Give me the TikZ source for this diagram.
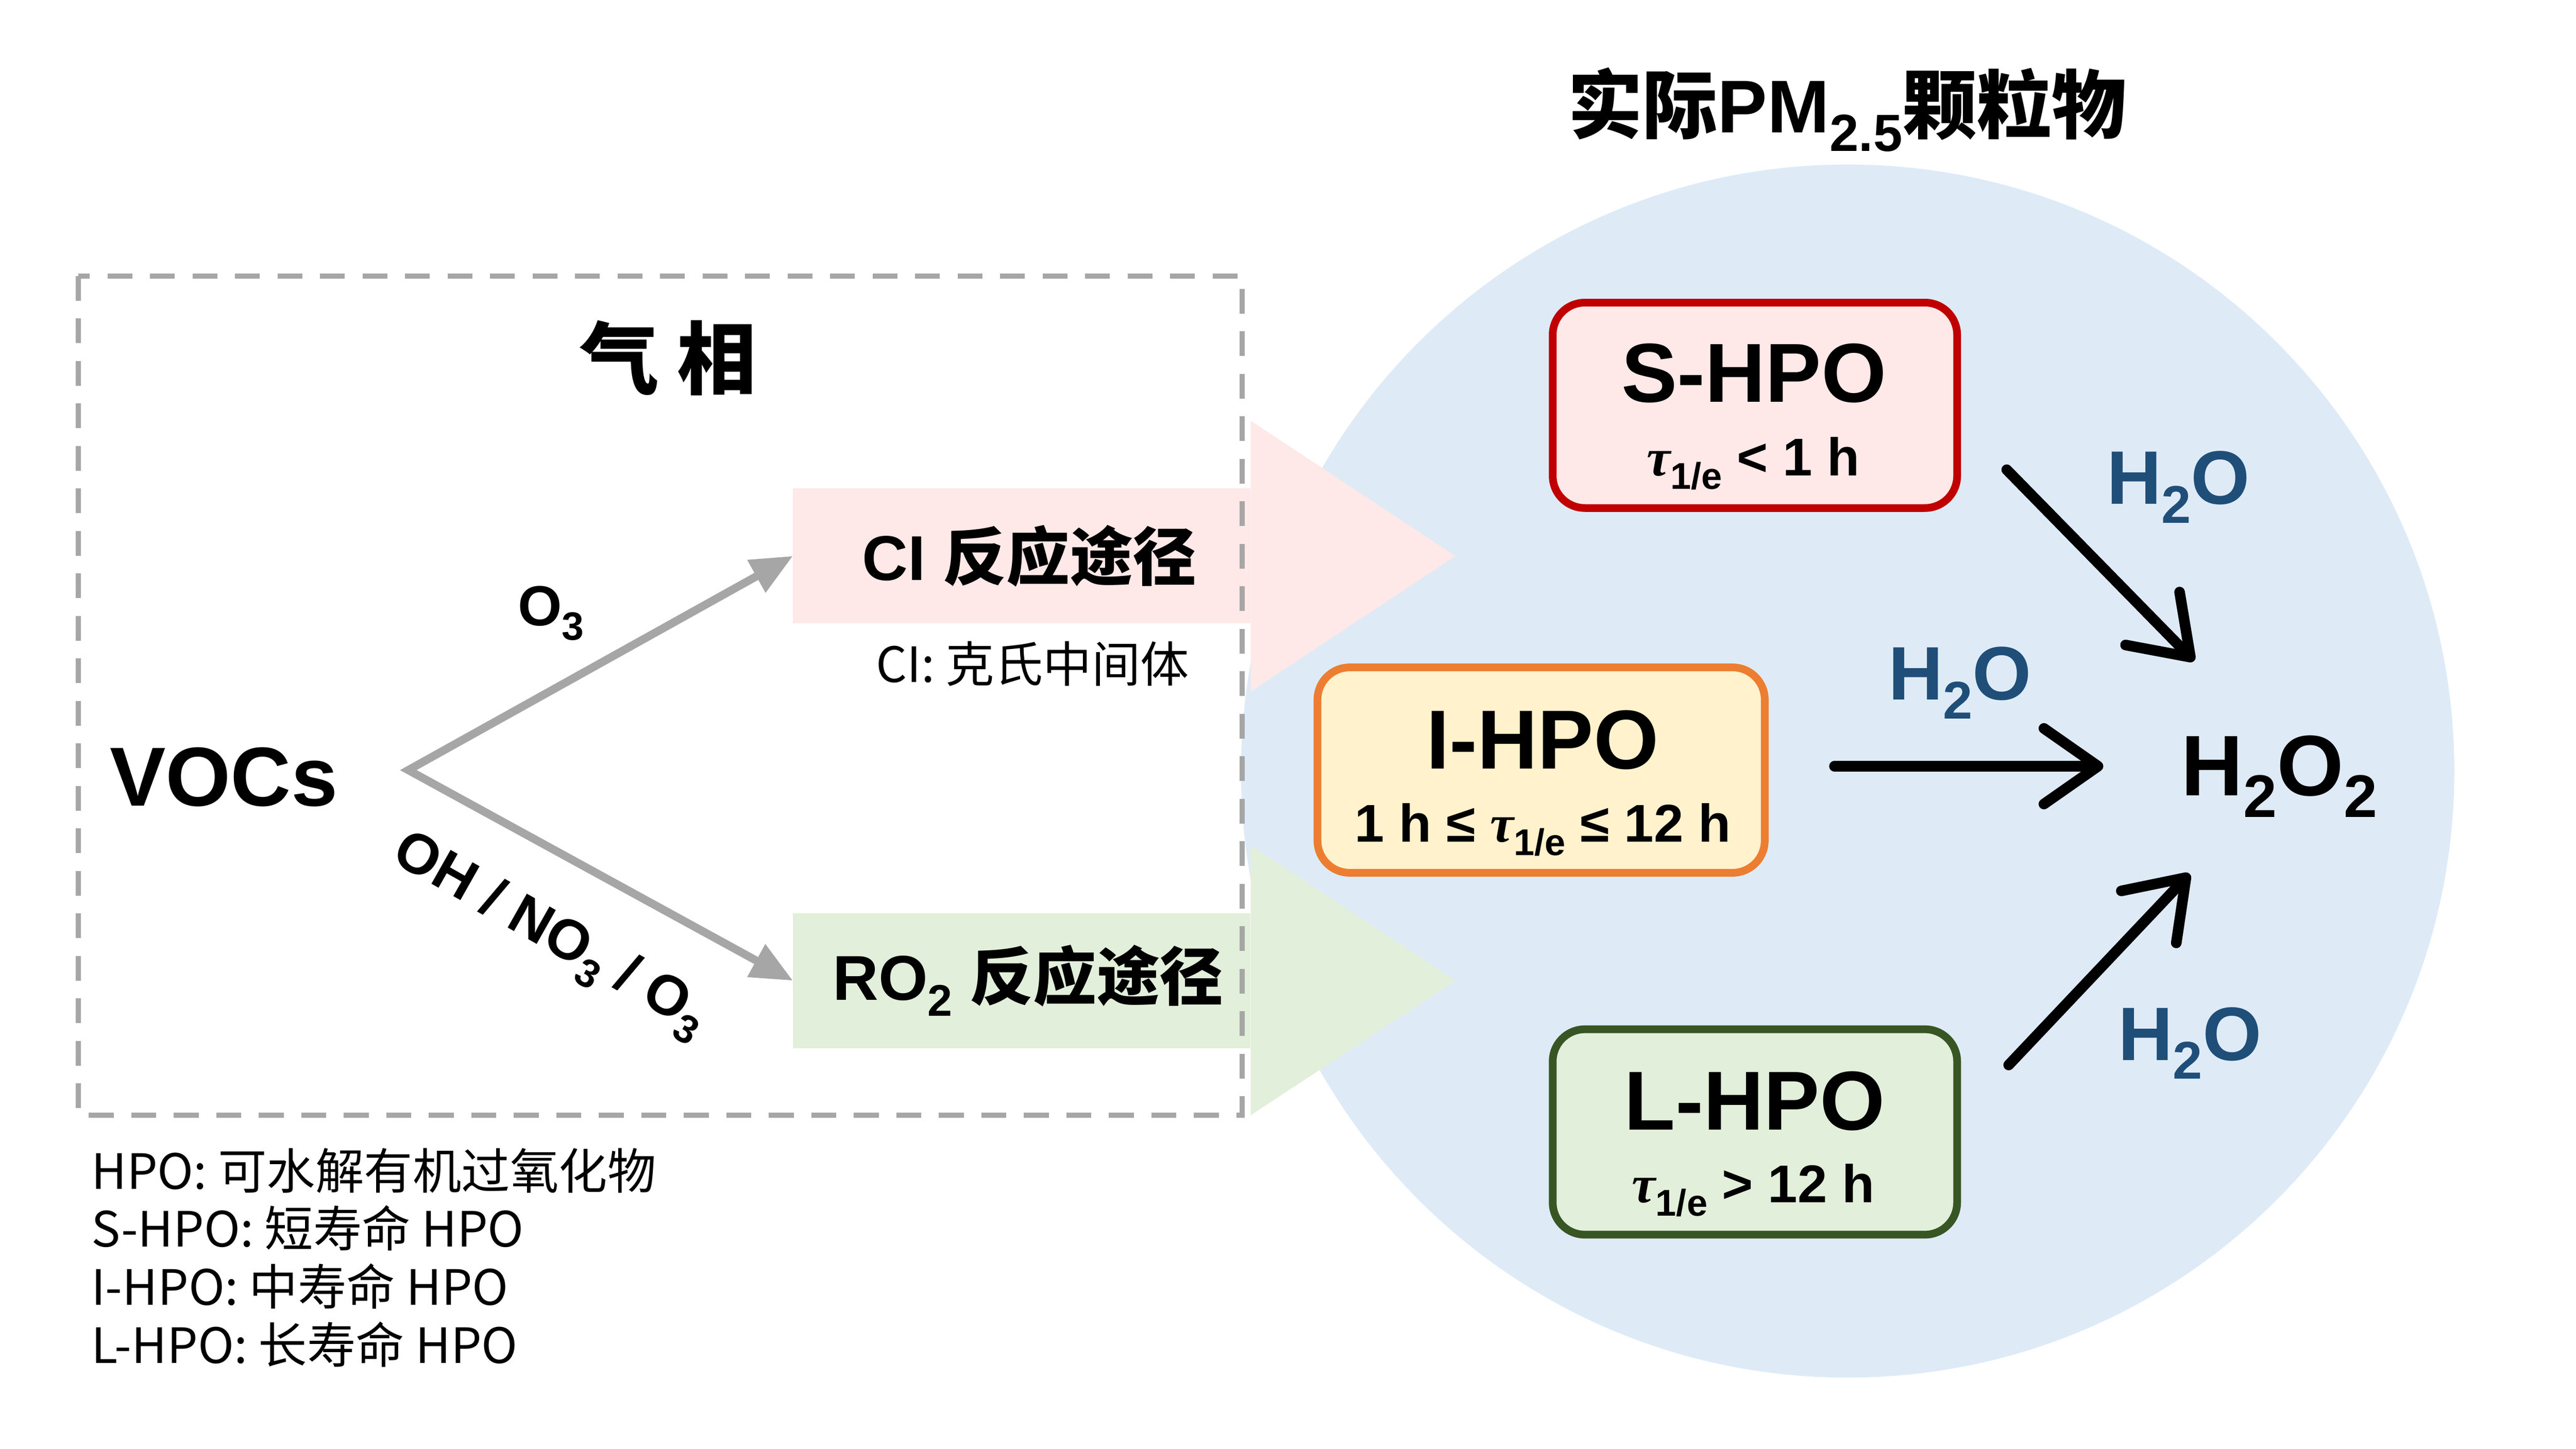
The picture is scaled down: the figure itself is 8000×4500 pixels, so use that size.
\documentclass[tikz,border=0pt]{standalone}
\usepackage{fontspec}
\setmainfont{Liberation Sans}
\newfontfamily\cjk{Noto Sans CJK SC}
\newfontfamily\grk{Liberation Serif}
\usepackage{xcolor}
\usepackage{tikz}
\usetikzlibrary{arrows.meta,calc}
\definecolor{dashgray}{HTML}{A6A6A6}
\definecolor{pmblue}{HTML}{DEEBF7}
\definecolor{cipink}{HTML}{FFE8E8}
\definecolor{rogreen}{HTML}{E2EFDA}
\definecolor{iyellow}{HTML}{FFF2CC}
\definecolor{sred}{HTML}{C00000}
\definecolor{iorange}{HTML}{ED7D31}
\definecolor{lgreen}{HTML}{375623}
\definecolor{waterblue}{HTML}{1F4E79}
\newcommand{\fsz}[1]{\fontsize{#1pt}{#1pt}\selectfont}
\newcommand{\lowidx}[1]{\raisebox{-0.25em}{\scalebox{0.7}{#1}}}
\newcommand{\tauidx}{{\grk\itshape τ}\lowidx{1/e}}

\begin{document}
\begin{tikzpicture}[x=0.1mm,y=-0.1mm,
    hpobox/.style={rounded corners=10mm,line width=2.4mm,minimum width=125.6mm,minimum height=63.8mm,inner sep=0pt},
    pathbox/.style={minimum width=142.1mm,minimum height=41.9mm,inner sep=0pt,outer sep=0pt,font=\bfseries\fsz{56}},
    hponame/.style={font=\bfseries\fsz{74},inner sep=0pt},
    hpotau/.style={font=\bfseries\fsz{47},inner sep=0pt},
    water/.style={font=\bfseries\fsz{67},text=waterblue,inner sep=0pt},
    legend/.style={font=\cjk\fsz{43},anchor=base west,inner sep=0pt},
    grayarrow/.style={dashgray,line width=2.5mm,arrows={Triangle[length=13mm,width=11mm]-Triangle[length=13mm,width=11mm]}},
    blackarrow/.style={line width=3.3mm,line cap=round,-{Straight Barb[length=16.8mm,width=23.5mm,round]}}]
    \useasboundingbox (0,0) rectangle (8000,4500);

    % particle phase
    \fill[pmblue] (5738,2395) circle[radius=188.4mm];
    \fill[cipink] (3884,1307) -- (4520,1727) -- (3884,2148) -- cycle;
    \fill[rogreen] (3884,2626) -- (4520,3046) -- (3884,3464) -- cycle;

    % gas phase
    \node[pathbox,fill=cipink] (ci) at (3173,1727) {\hspace*{4.8mm}CI {\cjk 反应途径}};
    \node[pathbox,fill=rogreen] (ro) at (3173,3046) {\hspace*{4mm}RO\lowidx{2} {\cjk 反应途径}};
    \draw[dashgray,line width=1.6mm,dash pattern=on 7.7mm off 5.5mm] (243,857) rectangle (3858,3464);
    \node[font=\cjk\bfseries\fsz{70}] (gas) at (2075,1112) {气 相};
    \node[font=\bfseries\fsz{74}] (vocs) at (695,2414) {VOCs};
    \coordinate (fork) at (1268,2392);
    \draw[grayarrow] (ci.west) -- (fork) -- (ro.west);
    \node[font=\bfseries\fsz{50}] (othree) at (1711,1905) {O\lowidx{3}};
    \node[font=\bfseries\fsz{50},rotate=-29.5] (oxid) at (1707,2907) {OH / NO\lowidx{3} / O\lowidx{3}};
    \node[font=\cjk\fsz{43}] (cinote) at (3207,2062) {CI: 克氏中间体};

    \node[font=\bfseries\fsz{66}] (pm) at (5737,341) {{\cjk 实际}PM\lowidx{2.5}{\cjk 颗粒物}};

    % HPO boxes
    \node[hpobox,draw=sred,fill=cipink] (shpo) at (5450,1259) {};
    \node[hpobox,draw=iorange,fill=iyellow,minimum width=138.9mm] (ihpo) at (4786,2392) {};
    \node[hpobox,draw=lgreen,fill=rogreen] (lhpo) at (5450,3516) {};
    \node[hponame] (sname) at (5447,1160) {S-HPO};
    \node[hpotau] (stau) at (5445,1440) {\tauidx{} < 1 h};
    \node[hponame] (iname) at (4790,2298) {I-HPO};
    \node[hpotau] (itau) at (4791,2577) {1 h ≤ \tauidx{} ≤ 12 h};
    \node[hponame] (lname) at (5449,3420) {L-HPO};
    \node[hpotau] (ltau) at (5445,3697) {\tauidx{} > 12 h};

    % hydrolysis to H2O2
    \node[font=\bfseries\fsz{76},inner sep=0pt] (hoo) at (7078,2411) {H\lowidx{2}O\lowidx{2}};
    \coordinate (s0) at (6232,1459);
    \coordinate (s1) at (6814,2053);
    \coordinate (i0) at (5697,2380);
    \coordinate (i1) at (6532,2380);
    \coordinate (l0) at (6238,3308);
    \coordinate (l1) at (6800,2714);
    \draw[blackarrow] (s0) -- (s1);
    \draw[blackarrow] (i0) -- (i1);
    \draw[blackarrow] (l0) -- (l1);
    \node[water] (wtop) at (6765,1513) {H\lowidx{2}O};
    \node[water] (wmid) at (6087,2121) {H\lowidx{2}O};
    \node[water] (wlow) at (6801,3240) {H\lowidx{2}O};

    % legend
    \node[legend] (lg1) at (283,3694) {HPO: 可水解有机过氧化物};
    \node[legend] (lg2) at (283,3872) {S-HPO: 短寿命 HPO};
    \node[legend] (lg3) at (283,4054) {I-HPO: 中寿命 HPO};
    \node[legend] (lg4) at (283,4235) {L-HPO: 长寿命 HPO};
\end{tikzpicture}
\end{document}
